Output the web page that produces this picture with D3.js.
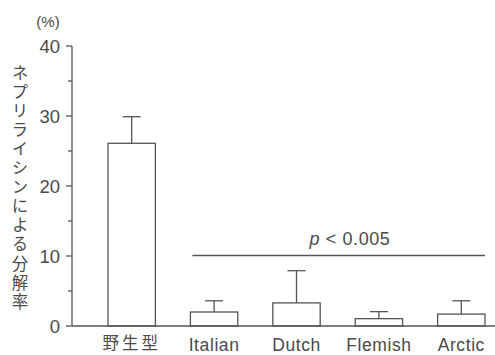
<!DOCTYPE html>
<html>
<head>
<meta charset="utf-8">
<script src="https://cdn.jsdelivr.net/npm/d3@7"></script>
<style>
  html, body { margin: 0; padding: 0; background: #fff; }
  svg { display: block; }
  text { font-family: "Liberation Sans", Arial, sans-serif; fill: #4a4a4a; }
  .jp { font-family: "Noto Sans CJK JP", sans-serif; }
</style>
</head>
<body>
<script>
// Neprilysin degradation rate per Aβ variant (mean and upper error bar, %)
const categories = ["野生型", "Italian", "Dutch", "Flemish", "Arctic"];
const means = [26.1, 2.0, 3.3, 1.05, 1.7];
const upper = [29.9, 3.6, 7.9, 2.05, 3.6];
const majorTicks = [0, 10, 20, 30, 40];
const minorTicks = [5, 15, 25, 35];
const yLabel = "ネプリライシンによる分解率";
const unitLabel = "(%)";
const sigLabel = ["p", " < 0.005"];

const W = 495, H = 355;
const ink = "#555";

const svg = d3.select("body").append("svg")
  .attr("width", W).attr("height", H);

const y = d3.scaleLinear().domain([0, 40]).range([326, 46]);
const x = d3.scaleBand().domain(categories).range([108, 485]).paddingInner(0.425).paddingOuter(0);

// y axis
const axisG = svg.append("g").attr("transform", "translate(72,0)");
axisG.append("line").attr("x1", 0).attr("x2", 0).attr("y1", y(40)).attr("y2", y(0))
  .attr("stroke", ink).attr("stroke-width", 1.3);
axisG.selectAll(".major").data(majorTicks).join("line")
  .attr("x1", -6).attr("x2", 0).attr("y1", d => y(d)).attr("y2", d => y(d))
  .attr("stroke", ink).attr("stroke-width", 1.3);
axisG.selectAll(".minor").data(minorTicks).join("line")
  .attr("x1", -4).attr("x2", 0).attr("y1", d => y(d)).attr("y2", d => y(d))
  .attr("stroke", ink).attr("stroke-width", 1.3);
axisG.selectAll(".tl").data(majorTicks).join("text")
  .attr("x", -12).attr("y", d => y(d)).attr("dy", "0.36em")
  .attr("text-anchor", "end").attr("font-size", 18.5).text(d => d);

// baseline
svg.append("line").attr("x1", 72).attr("x2", W).attr("y1", y(0)).attr("y2", y(0))
  .attr("stroke", ink).attr("stroke-width", 1.3);

svg.append("text").attr("x", 48).attr("y", 27).attr("text-anchor", "middle")
  .attr("font-size", 15).text(unitLabel);

// vertical Japanese axis title
svg.append("text").attr("class", "jp")
  .attr("x", 20).attr("y", 64)
  .attr("font-size", 16.5)
  .style("writing-mode", "vertical-rl")
  .style("text-orientation", "upright")
  .style("letter-spacing", "2.6px")
  .text(yLabel);

// bars
const bars = svg.append("g");
bars.selectAll("rect").data(categories).join("rect")
  .attr("x", d => x(d)).attr("width", x.bandwidth())
  .attr("y", (d, i) => y(means[i])).attr("height", (d, i) => y(0) - y(means[i]))
  .attr("fill", "none").attr("stroke", ink).attr("stroke-width", 1.3);

// upper error bars
bars.selectAll(".err").data(categories).join("line")
  .attr("x1", d => x(d) + x.bandwidth() / 2).attr("x2", d => x(d) + x.bandwidth() / 2)
  .attr("y1", (d, i) => y(means[i])).attr("y2", (d, i) => y(upper[i]))
  .attr("stroke", ink).attr("stroke-width", 1.3);
bars.selectAll(".cap").data(categories).join("line")
  .attr("x1", d => x(d) + x.bandwidth() / 2 - 9).attr("x2", d => x(d) + x.bandwidth() / 2 + 9)
  .attr("y1", (d, i) => y(upper[i])).attr("y2", (d, i) => y(upper[i]))
  .attr("stroke", ink).attr("stroke-width", 1.3);

// category labels
svg.selectAll(".cl").data(categories).join("text")
  .attr("class", (d, i) => i === 0 ? "jp" : null)
  .attr("x", d => x(d) + x.bandwidth() / 2).attr("y", (d, i) => i === 0 ? 349 : 351)
  .attr("text-anchor", "middle")
  .attr("font-size", (d, i) => i === 0 ? 16.5 : 17.5)
  .style("letter-spacing", (d, i) => i === 0 ? "3px" : "0.6px")
  .text(d => d);

// significance line over mutant bars
const mut = categories.slice(1);
const sx1 = x(mut[0]) + 2, sx2 = x(mut[mut.length - 1]) + x.bandwidth();
svg.append("line").attr("x1", sx1).attr("x2", sx2).attr("y1", 255.5).attr("y2", 255.5)
  .attr("stroke", ink).attr("stroke-width", 1.3);
const sig = svg.append("text").attr("x", 350).attr("y", 245)
  .attr("text-anchor", "middle").attr("font-size", 18)
  .style("letter-spacing", "0.6px");
sig.append("tspan").attr("font-style", "italic").text(sigLabel[0]);
sig.append("tspan").text(sigLabel[1]);
</script>
</body>
</html>
